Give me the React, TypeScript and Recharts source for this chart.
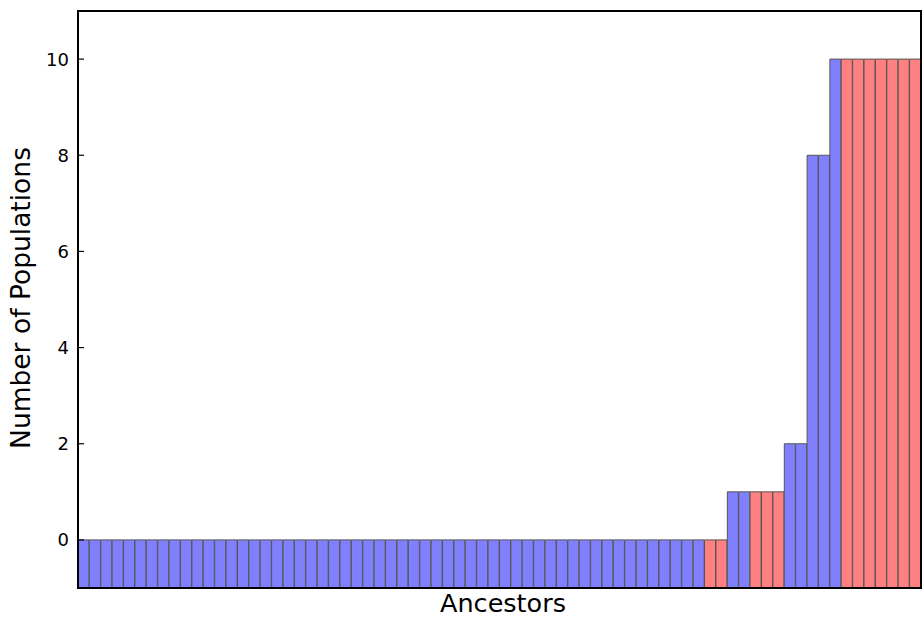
import React from 'react';
import { BarChart, Bar, XAxis, YAxis, Cell } from 'recharts';

// Number of populations per ancestor, left to right
const populationCounts = [
  0, 0, 0, 0, 0, 0, 0, 0, 0, 0,
  0, 0, 0, 0, 0, 0, 0, 0, 0, 0,
  0, 0, 0, 0, 0, 0, 0, 0, 0, 0,
  0, 0, 0, 0, 0, 0, 0, 0, 0, 0,
  0, 0, 0, 0, 0, 0, 0, 0, 0, 0,
  0, 0, 0, 0, 0, 0, 0, 1, 1, 1,
  1, 1, 2, 2, 8, 8, 10, 10, 10, 10,
  10, 10, 10, 10,
];

// Group of each ancestor: 'b' = blue, 'r' = red
const ancestorGroups = [
  'b', 'b', 'b', 'b', 'b', 'b', 'b', 'b', 'b', 'b',
  'b', 'b', 'b', 'b', 'b', 'b', 'b', 'b', 'b', 'b',
  'b', 'b', 'b', 'b', 'b', 'b', 'b', 'b', 'b', 'b',
  'b', 'b', 'b', 'b', 'b', 'b', 'b', 'b', 'b', 'b',
  'b', 'b', 'b', 'b', 'b', 'b', 'b', 'b', 'b', 'b',
  'b', 'b', 'b', 'b', 'b', 'r', 'r', 'b', 'b', 'r',
  'r', 'r', 'b', 'b', 'b', 'b', 'b', 'r', 'r', 'r',
  'r', 'r', 'r', 'r',
];

const yTicks = [0, 2, 4, 6, 8, 10];

const GROUP_COLORS: Record<string, string> = { b: '#8080ff', r: '#ff8080' };

const FONT = '"DejaVu Sans", sans-serif';

const W = 922;
const H = 617;
const PLOT_LEFT = 78;
const PLOT_TOP = 11;
const PLOT_BOTTOM = 588;
const PLOT_RIGHT = 921;

// bars start at the bottom of the axis (-1)
const chartData = populationCounts.map((count, i) => ({
  name: `a${i}`,
  range: [-1, count],
  group: ancestorGroups[i],
}));

function InwardTick(props: any) {
  const { x, y, payload } = props;
  return (
    <g>
      <line x1={x} y1={y} x2={x + 6} y2={y} stroke="#000" strokeWidth={1.2} />
      <text
        x={x - 9}
        y={y}
        dy={6.5}
        textAnchor="end"
        fontFamily={FONT}
        fontSize={18}
        fill="#000"
      >
        {payload.value}
      </text>
    </g>
  );
}

export default function App() {
  return (
    <div style={{ position: 'absolute', left: 0, top: 0, width: W, height: H, background: '#fff' }}>
      <BarChart
        width={W}
        height={H}
        data={chartData}
        margin={{ top: PLOT_TOP, right: W - PLOT_RIGHT, left: 0, bottom: H - PLOT_BOTTOM }}
        barCategoryGap={0}
        barGap={0}
      >
        <XAxis dataKey="name" hide />
        <YAxis
          type="number"
          domain={[-1, 11]}
          ticks={yTicks}
          width={PLOT_LEFT}
          axisLine={false}
          tickLine={false}
          tickSize={0}
          tickMargin={0}
          tick={<InwardTick />}
          allowDataOverflow
        />
        <Bar dataKey="range" stroke="#555" strokeWidth={1} isAnimationActive={false}>
          {chartData.map((d, i) => (
            <Cell key={`c-${i}`} fill={GROUP_COLORS[d.group]} />
          ))}
        </Bar>
        <text
          x={503}
          y={612}
          textAnchor="middle"
          fontFamily={FONT}
          fontSize={25.5}
          fill="#000"
        >
          Ancestors
        </text>
        <text
          x={30}
          y={298}
          transform="rotate(-90, 30, 298)"
          textAnchor="middle"
          fontFamily={FONT}
          fontSize={26.5}
          fill="#000"
        >
          Number of Populations
        </text>
      </BarChart>
      {/* axes frame */}
      <div
        style={{
          position: 'absolute',
          left: PLOT_LEFT - 1,
          top: PLOT_TOP - 1,
          width: PLOT_RIGHT - PLOT_LEFT - 2,
          height: PLOT_BOTTOM - PLOT_TOP - 2,
          border: '2px solid #000',
          pointerEvents: 'none',
        }}
      />
    </div>
  );
}
